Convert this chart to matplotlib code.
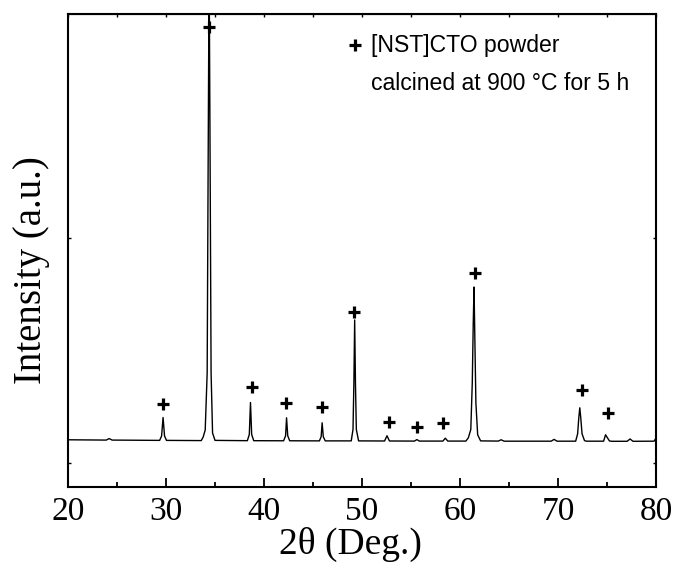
import matplotlib
matplotlib.use('Agg')
import matplotlib.pyplot as plt
from matplotlib.ticker import MultipleLocator

# XRD trace (2theta in deg, intensity in arbitrary counts)
two_theta = [20.0,
             23.9, 24.2, 24.5,
             29.35, 29.55, 29.7, 29.85, 30.05,
             33.6, 33.8, 34.0, 34.2, 34.3, 34.4, 34.5, 34.6, 34.75, 35.0,
             38.3, 38.5, 38.62, 38.74, 38.95,
             42.0, 42.2, 42.3, 42.42, 42.62,
             45.65, 45.83, 45.93, 46.05, 46.25,
             48.9, 49.08, 49.17, 49.25, 49.33, 49.42, 49.65,
             52.3, 52.55, 52.8,
             55.35, 55.6, 55.85,
             58.25, 58.5, 58.75,
             60.6, 60.85, 61.1, 61.25, 61.35, 61.43, 61.52, 61.62, 61.8, 62.1,
             63.9, 64.2, 64.5,
             69.3, 69.6, 69.9,
             71.8, 72.0, 72.12, 72.22, 72.32, 72.45, 72.7, 72.9,
             74.65, 74.85, 75.0, 75.25, 75.5,
             77.05, 77.35, 77.65,
             79.8, 80.0]
intensity = [232,
             229, 244, 229,
             226, 270, 455, 270, 226,
             224, 262, 330, 900, 3000, 5000, 3000, 900, 300, 226,
             223, 285, 605, 285, 223,
             222, 272, 452, 272, 222,
             221, 262, 402, 262, 221,
             221, 335, 800, 1430, 800, 335, 221,
             220, 272, 220,
             219, 234, 219,
             219, 248, 219,
             219, 252, 335, 800, 1400, 1760, 1200, 600, 282, 221,
             219, 232, 218,
             218, 236, 218,
             218, 292, 452, 552, 452, 292, 224, 218,
             218, 282, 258, 220, 217,
             217, 240, 217,
             218, 250]

# peak markers
mark_x = [29.69, 34.39, 38.78, 42.24, 45.92, 49.18, 52.76, 55.61, 58.27, 61.53, 72.45, 75.1]
mark_y = [590, 4360, 760, 600, 560, 1510, 410, 360, 400, 1900, 730, 500]

label_line1 = '[NST]CTO powder'
label_line2 = 'calcined at 900 °C for 5 h'

fig = plt.figure(figsize=(6.78, 5.74), dpi=100)
ax = fig.add_axes([0.1003, 0.1516, 0.8673, 0.824])

ax.plot(two_theta, intensity, color='black', lw=1.0)
ax.plot(mark_x, mark_y, ls='none', marker='+', ms=8.6, mew=2.3, color='black')

# legend-like note
ax.plot([49.29], [4180], ls='none', marker='+', ms=8.6, mew=2.3, color='black')
ax.text(50.92, 4180, label_line1, family='Liberation Sans', fontsize=16.6, va='center', ha='left')
ax.text(50.92, 3800, label_line2, family='Liberation Sans', fontsize=16.6, va='center', ha='left')

ax.set_xlim(20, 80)
ax.set_ylim(-240, 4490)
ax.xaxis.set_major_locator(MultipleLocator(10))
ax.xaxis.set_minor_locator(MultipleLocator(5))
ax.yaxis.set_major_locator(MultipleLocator(2250))
ax.set_yticklabels([])

ax.tick_params(axis='x', which='major', direction='in', length=6.5, width=1.3,
               labelsize=24, pad=7, top=False)
ax.tick_params(axis='x', which='minor', direction='in', length=3.6, width=1.3, top=False)
ax.tick_params(axis='y', which='major', direction='in', length=2.5, width=1.0,
               left=True, right=True, labelleft=False)
for lab in ax.get_xticklabels():
    lab.set_family('Liberation Serif')

# short ticks on top spine
top = ax.secondary_xaxis('top')
top.xaxis.set_major_locator(MultipleLocator(5))
top.tick_params(direction='in', length=2.0, width=1.0, labeltop=False)

for s in ax.spines.values():
    s.set_linewidth(1.5)

ax.set_xlabel('2θ (Deg.)', family='Liberation Serif', fontsize=27)
ax.xaxis.set_label_coords(0.48, -0.085)
ax.set_ylabel('Intensity (a.u.)', family='Liberation Serif', fontsize=28)
ax.yaxis.set_label_coords(-0.030, 0.459)

fig.savefig('out.png', dpi=100)
